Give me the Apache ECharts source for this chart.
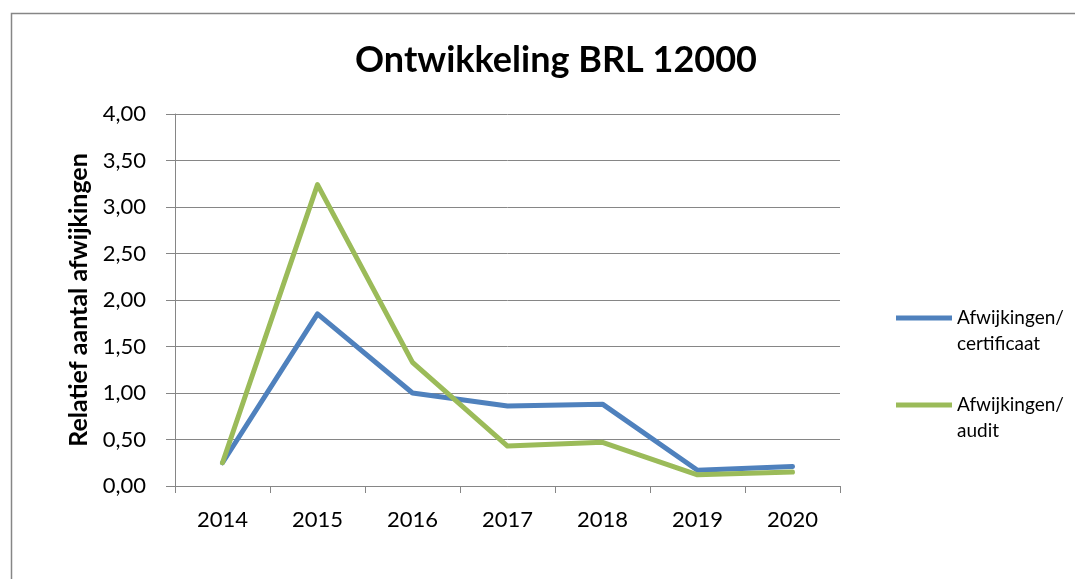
<!DOCTYPE html>
<html>
<head>
<meta charset="utf-8">
<script src="https://cdn.jsdelivr.net/npm/echarts@6/dist/echarts.min.js"></script>
<style>
html,body{margin:0;padding:0;background:#fff;}
#chart{width:1075px;height:579px;}
</style>
</head>
<body>
<div id="chart"></div>
<script>
var categories = ['2014','2015','2016','2017','2018','2019','2020'];
var certificaat = [0.25, 1.85, 1.00, 0.86, 0.88, 0.17, 0.21];
var audit = [0.25, 3.24, 1.33, 0.43, 0.47, 0.12, 0.15];
var seriesNames = ['Afwijkingen/\ncertificaat', 'Afwijkingen/\naudit'];
var yTicks = {min: 0, max: 4, interval: 0.5};

var FONT = 'Lato, "Open Sans", sans-serif';
var chart = echarts.init(document.getElementById('chart'));
chart.setOption({
  animation: false,
  backgroundColor: '#fff',
  graphic: [{
    type: 'rect', left: 9, top: 11, silent: true,
    shape: {width: 1080, height: 580},
    style: {fill: 'none', stroke: '#868686', lineWidth: 1.5}
  }],
  title: {
    text: 'Ontwikkeling BRL 12000',
    left: 556, top: 42, textAlign: 'center', padding: 0,
    textStyle: {fontFamily: FONT, fontWeight: 'bold', fontSize: 36, color: '#000'}
  },
  legend: {
    orient: 'vertical',
    left: 896, top: 279, padding: 0,
    itemWidth: 56, itemHeight: 5,
    itemGap: 9,
    icon: 'rect',
    formatter: function (name) { return '\n' + name; },
    textStyle: {fontFamily: FONT, fontSize: 19, color: '#000', lineHeight: 26},
    data: seriesNames
  },
  grid: {left: 175, right: 235, top: 114, bottom: 93},
  xAxis: {
    type: 'category', data: categories, boundaryGap: true,
    axisLine: {lineStyle: {color: '#868686', width: 1}},
    axisTick: {show: true, length: 7, alignWithLabel: false, lineStyle: {color: '#868686'}},
    axisLabel: {fontFamily: FONT, fontSize: 22, color: '#000', margin: 23}
  },
  yAxis: {
    type: 'value', min: yTicks.min, max: yTicks.max, interval: yTicks.interval,
    name: 'Relatief aantal afwijkingen',
    nameLocation: 'middle', nameGap: 80, nameRotate: 90,
    nameTextStyle: {fontFamily: FONT, fontWeight: 'bold', fontSize: 25, color: '#000'},
    axisLine: {show: true, lineStyle: {color: '#868686', width: 1}},
    axisTick: {show: true, length: 9, lineStyle: {color: '#868686'}},
    splitLine: {lineStyle: {color: '#868686', width: 1}},
    axisLabel: {fontFamily: FONT, fontSize: 22, color: '#000', margin: 29,
      formatter: function (v) { return v.toFixed(2).replace('.', ','); }}
  },
  series: [{
    name: seriesNames[0], type: 'line', data: certificaat,
    symbol: 'none', color: '#4F81BD',
    lineStyle: {width: 5, color: '#4F81BD', cap: 'round', join: 'round'}
  }, {
    name: seriesNames[1], type: 'line', data: audit,
    symbol: 'none', color: '#9BBB59',
    lineStyle: {width: 5, color: '#9BBB59', cap: 'round', join: 'round'}
  }]
});
</script>
</body>
</html>
